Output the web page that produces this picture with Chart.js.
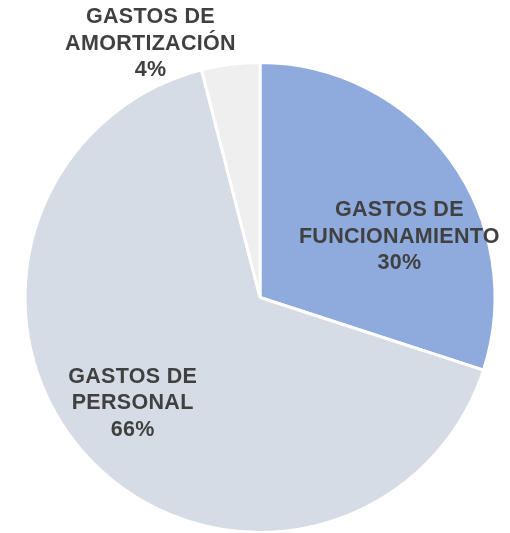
<!DOCTYPE html>
<html>
<head>
<meta charset="utf-8">
<script src="https://cdn.jsdelivr.net/npm/chart.js@4.4.1/dist/chart.umd.min.js"></script>
<style>
  html, body { margin: 0; padding: 0; background: #ffffff; overflow: hidden; }
  #wrap { width: 510px; height: 545px; position: relative; }
</style>
</head>
<body>
<div id="wrap"><canvas id="pie"></canvas></div>
<script>
// chart data
var categories = ["GASTOS DE\nFUNCIONAMIENTO", "GASTOS DE\nPERSONAL", "GASTOS DE\nAMORTIZACIÓN"];
var shares = [30, 66, 4];
var sliceColors = ["#8FAADC", "#D6DCE5", "#EFEFEF"];
// label anchors, as fractions of the radius from the pie centre
var labelAnchors = [[0.593, -0.258], [-0.542, 0.45], [-0.466, -1.08]];

// draws the category name + percent over (or next to) each slice
var sliceLabels = {
    id: "sliceLabels",
    afterDatasetsDraw: function (chart) {
        var ctx = chart.ctx;
        var meta = chart.getDatasetMeta(0);
        var data = chart.data.datasets[0].data;
        var total = data.reduce(function (a, b) { return a + b; }, 0);
        ctx.save();
        ctx.font = "bold 21.5px 'Liberation Sans', Arial, sans-serif";
        ctx.fillStyle = "#404040";
        ctx.textAlign = "center";
        ctx.textBaseline = "middle";
        if ("letterSpacing" in ctx) ctx.letterSpacing = "0.3px";
        meta.data.forEach(function (arc, i) {
            var r = arc.outerRadius;
            var x = arc.x + labelAnchors[i][0] * r;
            var y = arc.y + labelAnchors[i][1] * r;
            var lines = chart.data.labels[i].split("\n");
            lines.push(Math.round(data[i] / total * 100) + "%");
            var lh = 26.5;
            var y0 = y - (lines.length - 1) / 2 * lh;
            lines.forEach(function (t, k) {
                ctx.fillText(t, x, y0 + k * lh);
            });
        });
        ctx.restore();
    }
};

new Chart(document.getElementById("pie"), {
    type: "pie",
    data: {
        labels: categories,
        datasets: [{
            data: shares,
            backgroundColor: sliceColors,
            borderColor: "#ffffff",
            borderWidth: 3
        }]
    },
    options: {
        responsive: true,
        maintainAspectRatio: false,
        animation: false,
        layout: { padding: { left: 23, right: 13, top: 61, bottom: 11 } },
        plugins: {
            legend: { display: false },
            tooltip: { enabled: false }
        }
    },
    plugins: [sliceLabels]
});
</script>
</body>
</html>
